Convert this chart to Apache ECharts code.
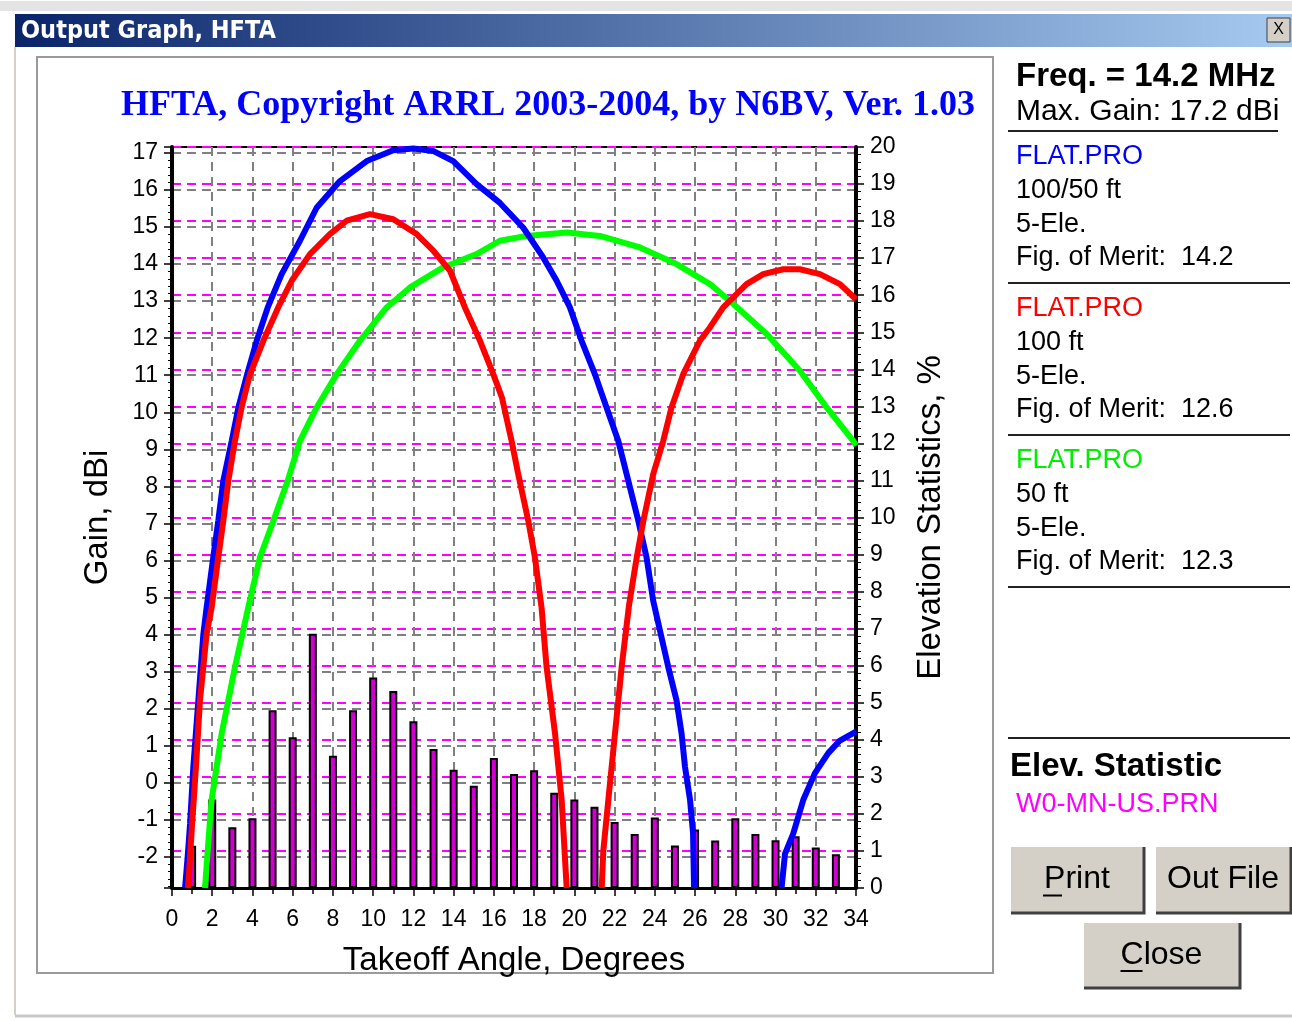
<!DOCTYPE html>
<html>
<head>
<meta charset="utf-8">
<script src="https://cdn.jsdelivr.net/npm/echarts@6/dist/echarts.min.js"></script>
<style>
html,body{margin:0;padding:0;background:#ffffff;}
#chart{width:1292px;height:1021px;}
</style>
</head>
<body>
<div id="chart"></div>
<script>
// ---- data ----
var chartTitle = 'HFTA, Copyright ARRL 2003-2004, by N6BV, Ver. 1.03';
var xTickLabels = [0,2,4,6,8,10,12,14,16,18,20,22,24,26,28,30,32,34];

// Elevation statistics (%), one bar per degree 1..33
var elevAngles = [1,2,3,4,5,6,7,8,9,10,11,12,13,14,15,16,17,18,19,20,21,22,23,24,25,26,27,28,29,30,31,32,33];
var elevPercent = [1.14,2.39,1.64,1.88,4.80,4.07,6.86,3.57,4.80,5.68,5.32,4.50,3.75,3.19,2.76,3.51,3.08,3.18,2.57,2.39,2.19,1.78,1.46,1.90,1.15,1.58,1.28,1.88,1.46,1.29,1.40,1.09,0.91];

// Gain curves [takeoff angle deg, gain dBi]; null = pattern null below the chart floor
var blueGain = [[0.65,-2.84],[0.77,-2.06],[0.9,-1.1],[1.06,0.42],[1.31,2.22],[1.56,4.02],[1.72,4.73],[2.05,6.08],[2.3,7.07],[2.55,8.15],[2.97,9.23],[3.3,10.13],[3.74,11.03],[4.21,11.93],[4.76,12.83],[5.45,13.73],[6.36,14.63],[7.19,15.52],[8.35,16.24],[9.68,16.78],[11,17.07],[12,17.12],[13,17.05],[13.98,16.78],[15.14,16.16],[16.3,15.65],[17.46,14.98],[18.45,14.18],[19.12,13.55],[19.78,12.83],[20.36,11.93],[21.02,11.03],[21.6,10.13],[22.18,9.23],[22.6,8.33],[22.93,7.61],[23.18,7.07],[23.59,6.08],[23.92,4.91],[24.67,3.12],[25.08,2.22],[25.33,1.33],[25.5,0.43],[25.75,-0.46],[25.9,-1.36],[25.95,-2.84],null,[30.3,-2.84],[30.47,-1.92],[30.88,-1.37],[31.38,-0.46],[31.96,0.26],[32.62,0.8],[33.2,1.14],[34,1.38]];
var redGain = [[0.8,-2.84],[1.0,-1.1],[1.19,0.42],[1.39,2.22],[1.72,4.02],[1.97,4.73],[2.3,6.08],[2.55,7.07],[2.8,8.15],[3.13,9.23],[3.46,10.13],[3.88,11.03],[4.54,11.93],[5.28,12.83],[5.95,13.55],[6.86,14.27],[7.85,14.81],[8.68,15.17],[9.84,15.35],[11.0,15.21],[12.16,14.81],[12.99,14.36],[13.82,13.82],[14.56,12.83],[15.31,11.93],[15.97,11.03],[16.4,10.4],[16.88,9.23],[17.21,8.33],[17.71,7.07],[18.04,6.08],[18.37,4.73],[18.62,3.12],[19.04,1.33],[19.37,-0.46],[19.53,-2.0],[19.62,-2.84],null,[21.36,-2.84],[21.44,-1.83],[21.69,-0.46],[22.02,1.33],[22.35,3.12],[22.72,4.8],[23.1,6.08],[23.43,7.07],[23.92,8.33],[24.42,9.23],[24.83,10.13],[25.41,11.03],[26.24,11.93],[26.74,12.29],[27.4,12.83],[27.9,13.1],[28.56,13.46],[29.39,13.73],[30.38,13.86],[31.21,13.86],[32.21,13.73],[33.2,13.46],[34,13.05]];
var greenGain = [[1.64,-2.84],[1.89,-1.0],[1.97,-0.46],[2.47,1.33],[3.13,3.12],[3.79,4.73],[4.37,6.08],[5.04,7.07],[5.78,8.2],[6.36,9.23],[7.19,10.13],[8.19,11.03],[9.34,11.93],[10.67,12.83],[11.83,13.37],[13.48,13.91],[15.14,14.27],[16.3,14.63],[17.63,14.76],[19.62,14.85],[21.27,14.76],[23.26,14.45],[25.08,14.0],[26.74,13.46],[27.9,12.92],[29.56,12.11],[31.21,11.12],[32.54,10.13],[33.86,9.23],[34,9.1]];

var panelLines = [
  {t:'Freq. = 14.2 MHz', c:'#000000', b:true},
  {t:'Max. Gain: 17.2 dBi', c:'#000000', b:false}
];
var antennas = [
  {name:'FLAT.PRO', color:'#0000ff', height:'100/50 ft', ele:'5-Ele.', fom:'Fig. of Merit:  14.2'},
  {name:'FLAT.PRO', color:'#ff0000', height:'100 ft', ele:'5-Ele.', fom:'Fig. of Merit:  12.6'},
  {name:'FLAT.PRO', color:'#00ee00', height:'50 ft', ele:'5-Ele.', fom:'Fig. of Merit:  12.3'}
];

// ---- chart ----
var barData = elevAngles.map(function(a,i){return [a, elevPercent[i]];});
var FONT = '"Liberation Sans", Arial, sans-serif';
var G = {left:172, top:147, width:684, height:741};

var graphics = [];
// window title bar
graphics.push({type:'rect', shape:{x:15,y:14,width:1277,height:33}, style:{fill:{type:'linear',x:0,y:0,x2:1,y2:0,colorStops:[{offset:0,color:'#0a246a'},{offset:1,color:'#a6caf0'}]}}, silent:true});
graphics.push({type:'text', x:21, y:31, style:{text:'Output Graph, HFTA', fill:'#ffffff', font:'bold 25px "DejaVu Sans Condensed", "Liberation Sans", sans-serif', textVerticalAlign:'middle'}});
graphics.push({type:'rect', shape:{x:1267,y:18,width:23,height:24}, style:{fill:'#d4d0c8', stroke:'#404040', lineWidth:1}});
graphics.push({type:'text', x:1278.5, y:30, style:{text:'X', fill:'#000', font:'16px ' + FONT, textAlign:'center', textVerticalAlign:'middle'}});
// window edges
graphics.push({type:'line', shape:{x1:15,y1:47,x2:15,y2:1015}, style:{stroke:'#d4d0c8', lineWidth:2}});
graphics.push({type:'line', shape:{x1:15,y1:1016,x2:1292,y2:1016}, style:{stroke:'#c8c8c8', lineWidth:3}});
graphics.push({type:'line', shape:{x1:0,y1:6,x2:1292,y2:6}, style:{stroke:'#e4e4e4', lineWidth:10}});
// chart frame
graphics.push({type:'rect', shape:{x:37,y:57,width:956,height:916}, style:{fill:'none', stroke:'#9a9a9a', lineWidth:2}, z:-1});

// right panel
var px = 1016;
graphics.push({type:'text', x:px, y:77, style:{text:panelLines[0].t, fill:panelLines[0].c, font:'bold 33px ' + FONT, textVerticalAlign:'middle'}});
graphics.push({type:'text', x:px, y:112, style:{text:panelLines[1].t, fill:panelLines[1].c, font:'30px ' + FONT, textVerticalAlign:'middle'}});
graphics.push({type:'line', shape:{x1:1008,y1:131,x2:1278,y2:131}, style:{stroke:'#202020', lineWidth:2}});
antennas.forEach(function(a,i){
  var y0 = 157 + i*152;
  graphics.push({type:'text', x:px, y:y0, style:{text:a.name, fill:a.color, font:'27px ' + FONT, textVerticalAlign:'middle'}});
  graphics.push({type:'text', x:px, y:y0+34, style:{text:a.height, fill:'#000', font:'27px ' + FONT, textVerticalAlign:'middle'}});
  graphics.push({type:'text', x:px, y:y0+68, style:{text:a.ele, fill:'#000', font:'27px ' + FONT, textVerticalAlign:'middle'}});
  graphics.push({type:'text', x:px, y:y0+101, style:{text:a.fom, fill:'#000', font:'27px ' + FONT, textVerticalAlign:'middle'}});
  graphics.push({type:'line', shape:{x1:1008,y1:y0+126,x2:1290,y2:y0+126}, style:{stroke:'#202020', lineWidth:2}});
});
graphics.push({type:'line', shape:{x1:1008,y1:738,x2:1290,y2:738}, style:{stroke:'#202020', lineWidth:2}});
graphics.push({type:'text', x:1010, y:767, style:{text:'Elev. Statistic', fill:'#000', font:'bold 33px ' + FONT, textVerticalAlign:'middle'}});
graphics.push({type:'text', x:1016, y:805, style:{text:'W0-MN-US.PRN', fill:'#ff00ff', font:'27px ' + FONT, textVerticalAlign:'middle'}});

function button(x,y,w,h,label,ul){
  graphics.push({type:'rect', shape:{x:x,y:y,width:w,height:h}, style:{fill:'#d4d0c8'}});
  graphics.push({type:'polyline', shape:{points:[[x,y+h],[x,y],[x+w,y]]}, style:{stroke:'#ffffff', lineWidth:2, fill:'none'}});
  graphics.push({type:'polyline', shape:{points:[[x+1,y+h],[x+w,y+h],[x+w,y+1]]}, style:{stroke:'#404040', lineWidth:3, fill:'none'}});
  var cx = x + w/2, cy = y + h/2;
  graphics.push({type:'text', x:cx, y:cy, style:{text:label, fill:'#000', font:'32px ' + FONT, textAlign:'center', textVerticalAlign:'middle'}});
  if (ul) {
    graphics.push({type:'line', shape:{x1:cx+ul[0],y1:cy+16,x2:cx+ul[1],y2:cy+16}, style:{stroke:'#000', lineWidth:2}});
  }
}
button(1010,846,134,67,'Print',[-34,-15]);
button(1155,846,136,67,'Out File',null);
button(1083,922,157,66,'Close',[-41,-19]);

var option = {
  animation:false,
  backgroundColor:'#ffffff',
  title:{text:chartTitle, left:116, top:83, textStyle:{fontFamily:'"Liberation Serif", "Times New Roman", serif', fontWeight:'bold', fontSize:36, color:'#0000ff'}},
  grid:{left:G.left, top:G.top, width:G.width, height:G.height, show:true, borderColor:'#000', borderWidth:2, backgroundColor:'transparent'},
  xAxis:{type:'value', min:0, max:34, interval:2,
    name:'Takeoff Angle, Degrees', nameLocation:'middle', nameGap:56,
    nameTextStyle:{fontFamily:FONT, fontSize:33, color:'#000'},
    axisLine:{onZero:false, lineStyle:{color:'#000', width:3}},
    axisTick:{show:true, length:8, lineStyle:{color:'#000', width:1.5}},
    minorTick:{show:true, splitNumber:2, length:6, lineStyle:{color:'#000', width:1.5}},
    axisLabel:{fontFamily:FONT, fontSize:23, color:'#000', margin:20},
    splitLine:{show:true, lineStyle:{color:'#808080', width:2, type:[9,6]}}
  },
  yAxis:[
    {type:'value', min:-2.84, max:17.16, minInterval:1, maxInterval:1, splitNumber:20, position:'left',
      name:'Gain, dBi', nameLocation:'middle', nameRotate:90, nameGap:58,
      nameTextStyle:{fontFamily:FONT, fontSize:33, color:'#000'},
      axisLine:{show:true, onZero:false, lineStyle:{color:'#000', width:4}},
      axisTick:{show:true, length:8, lineStyle:{color:'#000', width:1.5}},
      minorTick:{show:true, splitNumber:5, length:4, lineStyle:{color:'#000', width:1}},
      axisLabel:{fontFamily:FONT, fontSize:23, color:'#000', margin:14, showMinLabel:false, showMaxLabel:false},
      splitLine:{show:true, lineStyle:{color:'#808080', width:2, type:[9,6]}}
    },
    {type:'value', min:0, max:20, interval:1, position:'right',
      name:'Elevation Statistics, %', nameLocation:'middle', nameRotate:90, nameGap:58,
      nameTextStyle:{fontFamily:FONT, fontSize:33, color:'#000'},
      axisLine:{show:true, onZero:false, lineStyle:{color:'#000', width:4}},
      axisTick:{show:true, length:8, lineStyle:{color:'#000', width:1.5}},
      minorTick:{show:true, splitNumber:5, length:5, lineStyle:{color:'#000', width:1}},
      axisLabel:{fontFamily:FONT, fontSize:23, color:'#000', margin:14},
      splitLine:{show:true, lineStyle:{color:'#ff00ff', width:2, type:[9,6]}}
    }
  ],
  series:[
    {type:'bar', name:'Elevation', xAxisIndex:0, yAxisIndex:1, data:barData, barWidth:8,
      itemStyle:{color:'#d000d0', borderColor:'#000', borderWidth:2}, z:2},
    {type:'line', name:'50 ft', yAxisIndex:0, data:greenGain, showSymbol:false, connectNulls:false, smooth:false,
      lineStyle:{color:'#00ff00', width:6}, z:3},
    {type:'line', name:'100/50 ft', yAxisIndex:0, data:blueGain, showSymbol:false, connectNulls:false,
      lineStyle:{color:'#0000ff', width:6}, z:4},
    {type:'line', name:'100 ft', yAxisIndex:0, data:redGain, showSymbol:false, connectNulls:false,
      lineStyle:{color:'#ff0000', width:6}, z:5}
  ],
  graphic: graphics
};
var chart = echarts.init(document.getElementById('chart'), null, {renderer:'canvas'});
chart.setOption(option);
</script>
</body>
</html>
